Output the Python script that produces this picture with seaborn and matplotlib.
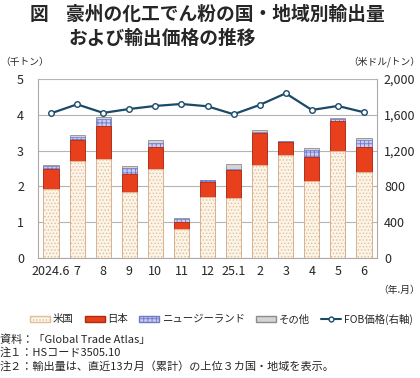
import numpy as np
import pandas as pd
import matplotlib
matplotlib.use('Agg')
import matplotlib.pyplot as plt
import matplotlib.patches as mpatches
import matplotlib.lines as mlines
import seaborn as sns

# data (thousand tonnes, USD/t)
months = ['2024.6', '7', '8', '9', '10', '11', '12', '25.1', '2', '3', '4', '5', '6']
usa = [1.94, 2.72, 2.77, 1.85, 2.50, 0.80, 1.70, 1.68, 2.60, 2.89, 2.15, 2.98, 2.39]
japan = [0.56, 0.58, 0.93, 0.51, 0.60, 0.21, 0.42, 0.79, 0.88, 0.36, 0.66, 0.86, 0.72]
nz = [0.06, 0.09, 0.19, 0.16, 0.12, 0.07, 0.05, 0.03, 0.03, 0.01, 0.21, 0.05, 0.19]
other = [0.03, 0.05, 0.05, 0.06, 0.09, 0.03, 0.02, 0.13, 0.06, 0.01, 0.06, 0.02, 0.05]
fob = [1617, 1717, 1621, 1665, 1699, 1721, 1695, 1606, 1710, 1840, 1654, 1699, 1628]

sns.set_style('white')
plt.rcParams['font.family'] = ['Noto Sans CJK JP', 'DejaVu Sans']
plt.rcParams['hatch.linewidth'] = 0.6

df = pd.DataFrame({'month': months, 'usa': usa, 'japan': japan, 'nz': nz, 'other': other})
df['c_jp'] = df['usa'] + df['japan']
df['c_nz'] = df['c_jp'] + df['nz']
df['c_ot'] = df['c_nz'] + df['other']

fig = plt.figure(figsize=(4.2, 3.78), dpi=100)
ax = fig.add_axes([38 / 420, 1 - 258 / 378, 339 / 420, 179 / 378])

w = 0.58
# stacked bars by overlaying cumulative totals
sns.barplot(data=df, x='month', y='c_ot', ax=ax, width=w, color='#d4d4d4',
            edgecolor='#8c8c8c', linewidth=0.6, saturation=1)
sns.barplot(data=df, x='month', y='c_nz', ax=ax, width=w, color='#c9ccf0',
            edgecolor='#6f78c8', hatch='++++', linewidth=0.5, saturation=1)
sns.barplot(data=df, x='month', y='c_jp', ax=ax, width=w, color='#e8401c',
            edgecolor='#b02a10', linewidth=0.6, saturation=1)
sns.barplot(data=df, x='month', y='usa', ax=ax, width=w, color='#fdf4e8',
            edgecolor='#ddbf9a', hatch='.....', linewidth=0.5, saturation=1)

ax.set_ylim(0, 5)
ax.set_xlim(-0.5, 12.5)
ax.set_yticks(range(6))
ax.yaxis.grid(True, color='#b4b4b4', linewidth=0.8)
ax.set_axisbelow(True)
ax.set_xlabel('')
ax.set_ylabel('')
ax.set_xticks(np.arange(-0.5, 13, 1), minor=True)
ax.tick_params(axis='x', which='major', length=0, labelsize=9, pad=5)
ax.tick_params(axis='x', which='minor', length=3, color='#999999', width=0.8)
ax.tick_params(axis='y', length=0, labelsize=9, pad=10)
for s in ['left', 'right', 'bottom']:
    ax.spines[s].set_color('#aaaaaa')
    ax.spines[s].set_linewidth(0.8)
ax.spines['top'].set_visible(False)

ax2 = ax.twinx()
sns.lineplot(x=np.arange(13), y=fob, ax=ax2, color='#1b4a68', linewidth=1.6,
             marker='o', markersize=4, markerfacecolor='white',
             markeredgecolor='#1b4a68', markeredgewidth=1.0)
ax2.set_ylim(0, 2000)
ax2.set_yticks(range(0, 2001, 400))
ax2.set_yticklabels(['0', '400', '800', '1,200', '1,600', '2,000'])
ax2.tick_params(axis='y', length=0, labelsize=9, pad=5)
for s in ax2.spines.values():
    s.set_visible(False)
ax2.set_xlim(-0.5, 12.5)

# titles and unit labels
fig.text(30 / 420, 1 - 14 / 378, '図', fontsize=13.5, fontweight='bold', va='center')
fig.text(66 / 420, 1 - 14 / 378, '豪州の化工でん粉の国・地域別輸出量', fontsize=13.5,
         fontweight='bold', va='center')
fig.text(68 / 420, 1 - 38 / 378, 'および輸出価格の推移', fontsize=13.5,
         fontweight='bold', va='center')
fig.text(0.0, 1 - 62 / 378, '（千トン）', fontsize=7, va='center')
fig.text(1.0, 1 - 62 / 378, '（米ドル/トン）', fontsize=7, va='center', ha='right')
fig.text(1.0, 1 - 290 / 378, '（年.月）', fontsize=7, va='center', ha='right')

handles = [
    mpatches.Patch(facecolor='#fdf4e8', edgecolor='#ddbf9a', hatch='.....', label='米国'),
    mpatches.Patch(facecolor='#e8401c', edgecolor='#b02a10', label='日本'),
    mpatches.Patch(facecolor='#c9ccf0', edgecolor='#6f78c8', hatch='++++', label='ニュージーランド'),
    mpatches.Patch(facecolor='#d4d4d4', edgecolor='#8c8c8c', label='その他'),
    mlines.Line2D([], [], color='#1b4a68', marker='o', markersize=3.5,
                  markerfacecolor='white', label='FOB価格(右軸)'),
]
fig.legend(handles=handles, loc='center', bbox_to_anchor=(0.527, 1 - 319 / 378),
           ncol=5, frameon=False, fontsize=7.5, handlelength=1.9, handleheight=0.55,
           handletextpad=0.25, columnspacing=1.1, borderaxespad=0, borderpad=0)

fig.text(0.0, 1 - 340 / 378, '資料：「Global Trade Atlas」', fontsize=8, va='center')
fig.text(0.0, 1 - 353 / 378, '注１：HSコード3505.10', fontsize=8, va='center')
fig.text(0.0, 1 - 366 / 378, '注２：輸出量は、直近13カ月（累計）の上位３カ国・地域を表示。',
         fontsize=8, va='center')

fig.savefig('out.png', dpi=100)
